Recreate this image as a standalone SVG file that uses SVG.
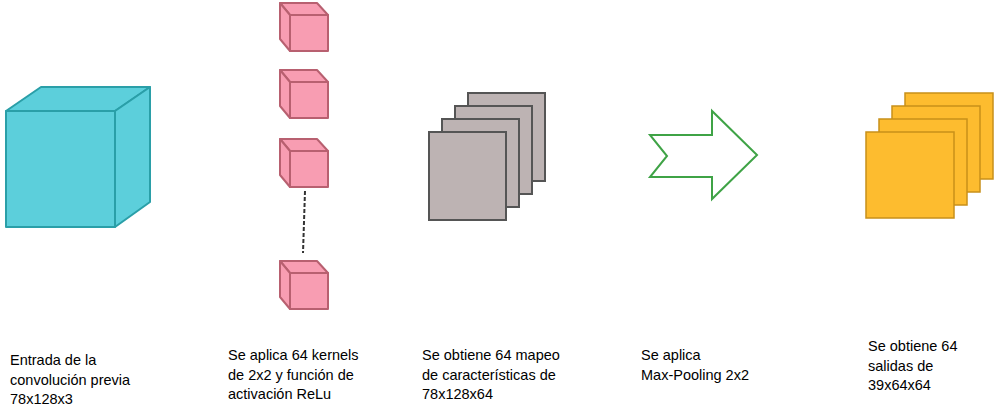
<svg xmlns="http://www.w3.org/2000/svg" width="999" height="415" viewBox="0 0 999 415">
<style>
text{font-family:"Liberation Sans",Arial,sans-serif;font-size:14.5px;fill:#000}
.blue{fill:#5ccfdb;stroke:#2a9fa8;stroke-width:2;stroke-linejoin:round}
.pink{fill:#f89db2;stroke:#b86070;stroke-width:2;stroke-linejoin:round}
.gray{fill:#bdb3b3;stroke:#555;stroke-width:2}
.yel{fill:#fdbc2f;stroke:#c8901a;stroke-width:1.5}
</style>
<defs>
<g id="pc">
<path class="pink" d="M0,12 L-10,0 L27,0 L38,12 Z"/>
<path class="pink" d="M0,12 L-10,0 L-10,36 L0,48 Z"/>
<rect class="pink" x="0" y="12" width="38" height="36"/>
</g>
</defs>
<g id="input">
<path class="blue" d="M6,111 L41,87 L150,87 L115,111 Z"/>
<path class="blue" d="M115,111 L150,87 L150,202 L115,227 Z"/>
<rect class="blue" x="6" y="111" width="109" height="116"/>
</g>
<g id="kernels">
<use href="#pc" x="290" y="3"/>
<use href="#pc" x="290" y="70"/>
<use href="#pc" x="290" y="139"/>
<use href="#pc" x="290" y="261"/>
</g>
<g id="connectors">
<line x1="305" y1="191" x2="303" y2="253" stroke="#333" stroke-width="2" stroke-dasharray="4,2"/>
</g>
<g id="maps">
<rect class="gray" x="468" y="93" width="77" height="88"/>
<rect class="gray" x="455" y="106" width="77" height="88"/>
<rect class="gray" x="442" y="119" width="77" height="88"/>
<rect class="gray" x="429" y="132" width="77" height="88"/>
</g>
<g id="pool">
<path d="M650,135 L712,135 L712,111 L757,155 L712,199 L712,177 L650,177 L667,156 Z" fill="#fff" stroke="#3fa346" stroke-width="2"/>
</g>
<g id="out">
<rect class="yel" x="905" y="93" width="88" height="86"/>
<rect class="yel" x="892" y="106" width="88" height="86"/>
<rect class="yel" x="879" y="119" width="88" height="86"/>
<rect class="yel" x="866" y="132" width="88" height="86"/>
</g>
<g id="labels">
<text x="10" y="365">Entrada de la</text>
<text x="10" y="385">convolución previa</text>
<text x="10" y="404">78x128x3</text>
<text x="228" y="360">Se aplica 64 kernels</text>
<text x="228" y="380">de 2x2 y función de</text>
<text x="228" y="399">activación ReLu</text>
<text x="422" y="360">Se obtiene 64 mapeo</text>
<text x="422" y="380">de características de</text>
<text x="422" y="399">78x128x64</text>
<text x="641" y="360">Se aplica</text>
<text x="641" y="380">Max-Pooling 2x2</text>
<text x="868" y="351">Se obtiene 64</text>
<text x="868" y="371">salidas de</text>
<text x="868" y="390">39x64x64</text>
</g>
</svg>
